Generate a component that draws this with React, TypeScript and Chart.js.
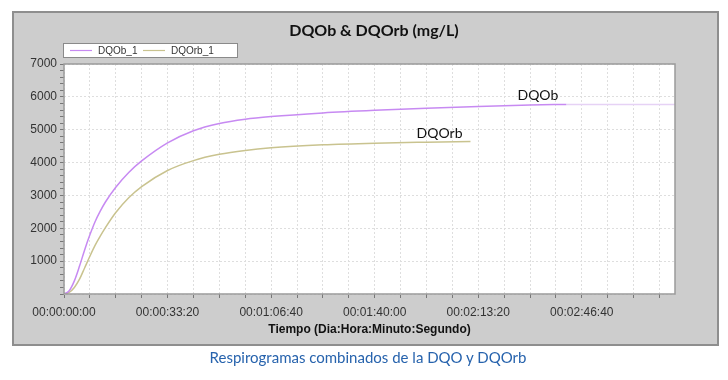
import React, { useEffect, useRef } from "react";
import { Chart, registerables } from "chart.js";

Chart.register(...registerables);

const CHART_TITLE = "DQOb & DQOrb (mg/L)";
const X_TITLE = "Tiempo (Dia:Hora:Minuto:Segundo)";
const CAPTION = "Respirogramas combinados de la DQO y DQOrb";
const LEGEND_LABELS = ["DQOb_1", "DQOrb_1"];
const CURVE_LABELS = ["DQOb", "DQOrb"];

const X_MAX = 11800; // seconds
const Y_MAX = 7000;
const X_LABEL_STEP = 2000;
const X_MINOR_STEP = 500;
const Y_LABEL_STEP = 1000;
const Y_MINOR_STEP = 200;

const DQOB_TIME = [0, 100, 200, 300, 400, 500, 600, 700, 800, 1000, 1250, 1500, 2000, 2500, 3000, 3500, 4000, 5000, 6000, 7000, 8000, 9000, 9700];
const DQOB_VALUES = [0, 100, 400, 850, 1350, 1800, 2200, 2520, 2800, 3250, 3700, 4050, 4600, 4970, 5190, 5320, 5400, 5510, 5590, 5655, 5710, 5750, 5770];
const DQOB_TAIL_TIME = [9700, 11800];
const DQOB_TAIL_VALUES = [5770, 5770];
const DQORB_TIME = [0, 100, 200, 300, 400, 500, 600, 700, 800, 1000, 1250, 1500, 2000, 2500, 3000, 3500, 4000, 5000, 6000, 7000, 7850];
const DQORB_VALUES = [0, 50, 200, 450, 800, 1150, 1480, 1760, 2020, 2480, 2930, 3270, 3760, 4060, 4250, 4370, 4450, 4540, 4590, 4620, 4640];

const COLOR_DQOB = "#c78af2";
const COLOR_DQOB_TAIL = "#e6d2f5";
const COLOR_DQORB = "#c9c38f";

const pad2 = (n: number) => String(n).padStart(2, "0");
const fmtTime = (s: number) => {
  const d = Math.floor(s / 86400);
  const h = Math.floor((s % 86400) / 3600);
  const m = Math.floor((s % 3600) / 60);
  const sec = Math.floor(s % 60);
  return `${pad2(d)}:${pad2(h)}:${pad2(m)}:${pad2(sec)}`;
};

const toPoints = (xs: number[], ys: number[]) => xs.map((x, i) => ({ x, y: ys[i] }));

const decorPlugin = {
  id: "decor",
  beforeDraw(chart: any) {
    const { ctx, chartArea } = chart;
    ctx.save();
    ctx.fillStyle = "#cdcdcd";
    ctx.fillRect(13, 12, 705, 333);
    ctx.strokeStyle = "#8e8e8e";
    ctx.lineWidth = 2;
    ctx.strokeRect(13, 12, 705, 333);
    ctx.fillStyle = "#ffffff";
    ctx.fillRect(chartArea.left, chartArea.top, chartArea.right - chartArea.left, chartArea.bottom - chartArea.top);
    ctx.restore();
  },
  afterDraw(chart: any) {
    const { ctx, chartArea, scales } = chart;
    ctx.save();
    ctx.strokeStyle = "#9a9a9a";
    ctx.lineWidth = 1.5;
    ctx.strokeRect(chartArea.left, chartArea.top, chartArea.right - chartArea.left, chartArea.bottom - chartArea.top);

    ctx.fillStyle = "#111111";
    ctx.font = "bold 16px Lato";
    ctx.textAlign = "center";
    ctx.textBaseline = "middle";
    ctx.fillText(CHART_TITLE, 374, 31);

    ctx.fillStyle = "#ffffff";
    ctx.fillRect(63, 43, 174, 14);
    ctx.strokeStyle = "#8a8a8a";
    ctx.lineWidth = 1;
    ctx.strokeRect(63.5, 43.5, 174, 14);
    const items = [
      { x: 70, color: COLOR_DQOB, text: LEGEND_LABELS[0] },
      { x: 143, color: COLOR_DQORB, text: LEGEND_LABELS[1] },
    ];
    ctx.font = "10px 'Liberation Sans'";
    ctx.textAlign = "left";
    items.forEach((it) => {
      ctx.strokeStyle = it.color;
      ctx.lineWidth = 1.2;
      ctx.beginPath();
      ctx.moveTo(it.x, 50.5);
      ctx.lineTo(it.x + 22, 50.5);
      ctx.stroke();
      ctx.fillStyle = "#333333";
      ctx.fillText(it.text, it.x + 28, 51);
    });

    const xs = scales.x;
    const ys = scales.y;
    ctx.font = "14px Lato";
    ctx.fillStyle = "#111111";
    ctx.textAlign = "right";
    ctx.textBaseline = "alphabetic";
    const bEndX = xs.getPixelForValue(DQOB_TIME[DQOB_TIME.length - 1]);
    const bEndY = ys.getPixelForValue(DQOB_VALUES[DQOB_VALUES.length - 1]);
    ctx.fillText(CURVE_LABELS[0], bEndX - 8, bEndY - 4);
    const rEndX = xs.getPixelForValue(DQORB_TIME[DQORB_TIME.length - 1]);
    const rEndY = ys.getPixelForValue(DQORB_VALUES[DQORB_VALUES.length - 1]);
    ctx.fillText(CURVE_LABELS[1], rEndX - 8, rEndY - 4);
    ctx.restore();
  },
};

export default function App() {
  const canvasRef = useRef<HTMLCanvasElement | null>(null);

  useEffect(() => {
    if (!canvasRef.current) return;
    const chart = new Chart(canvasRef.current, {
      type: "line",
      data: {
        datasets: [
          {
            label: LEGEND_LABELS[0],
            data: toPoints(DQOB_TIME, DQOB_VALUES),
            borderColor: COLOR_DQOB,
            borderWidth: 1.5,
            pointRadius: 0,
            cubicInterpolationMode: "monotone",
          },
          {
            label: LEGEND_LABELS[0] + " (cont.)",
            data: toPoints(DQOB_TAIL_TIME, DQOB_TAIL_VALUES),
            borderColor: COLOR_DQOB_TAIL,
            borderWidth: 1.5,
            pointRadius: 0,
          },
          {
            label: LEGEND_LABELS[1],
            data: toPoints(DQORB_TIME, DQORB_VALUES),
            borderColor: COLOR_DQORB,
            borderWidth: 1.5,
            pointRadius: 0,
            cubicInterpolationMode: "monotone",
          },
        ],
      },
      options: {
        animation: false,
        responsive: false,
        maintainAspectRatio: false,
        layout: { padding: { left: 13, top: 64, right: 53, bottom: 42 } },
        plugins: {
          legend: { display: false },
          title: { display: false },
          tooltip: { enabled: false },
        },
        scales: {
          x: {
            type: "linear",
            min: 0,
            max: X_MAX,
            afterBuildTicks: (s: any) => {
              const t = [];
              for (let v = 0; v <= X_MAX; v += X_MINOR_STEP) t.push({ value: v });
              s.ticks = t;
            },
            afterFit: (s: any) => {
              s.height = 44;
            },
            ticks: {
              autoSkip: false,
              maxRotation: 0,
              padding: 7,
              color: "#333333",
              font: { family: "'Liberation Sans'", size: 12 },
              callback: (v: any) => (Number(v) % X_LABEL_STEP === 0 ? fmtTime(Number(v)) : ""),
            },
            grid: {
              color: "#dedede",
              tickColor: "#777777",
              tickLength: 4,
            },
            border: { display: false, dash: [2, 2] },
            title: {
              display: true,
              text: X_TITLE,
              color: "#111111",
              font: { family: "'Liberation Sans'", size: 12, weight: "bold" },
              padding: { top: 2, bottom: 1 },
            },
          },
          y: {
            type: "linear",
            min: 0,
            max: Y_MAX,
            afterBuildTicks: (s: any) => {
              const t = [];
              for (let v = 0; v <= Y_MAX; v += Y_MINOR_STEP) t.push({ value: v });
              s.ticks = t;
            },
            afterFit: (s: any) => {
              s.width = 51;
            },
            ticks: {
              autoSkip: false,
              padding: 3,
              color: "#333333",
              font: { family: "'Liberation Sans'", size: 12 },
              callback: (v: any) => {
                const n = Number(v);
                return n % Y_LABEL_STEP === 0 && n > 0 ? String(n) : "";
              },
            },
            grid: {
              color: (c: any) => (c.tick && c.tick.value % Y_LABEL_STEP === 0 ? "#dedede" : "rgba(0,0,0,0)"),
              tickColor: "#777777",
              tickLength: 4,
            },
            border: { display: false, dash: [2, 2] },
          },
        },
      },
      plugins: [decorPlugin],
    });
    return () => chart.destroy();
  }, []);

  return (
    <div style={{ position: "absolute", left: 0, top: 0, width: 728, height: 380, background: "#ffffff" }}>
      <canvas ref={canvasRef} width={728} height={380} style={{ display: "block", width: 728, height: 380 }} />
      <div
        style={{
          position: "absolute",
          left: 0,
          top: 348,
          width: 736,
          textAlign: "center",
          fontFamily: "Lato, sans-serif",
          fontSize: 15,
          color: "#2763ad",
        }}
      >
        {CAPTION}
      </div>
    </div>
  );
}
